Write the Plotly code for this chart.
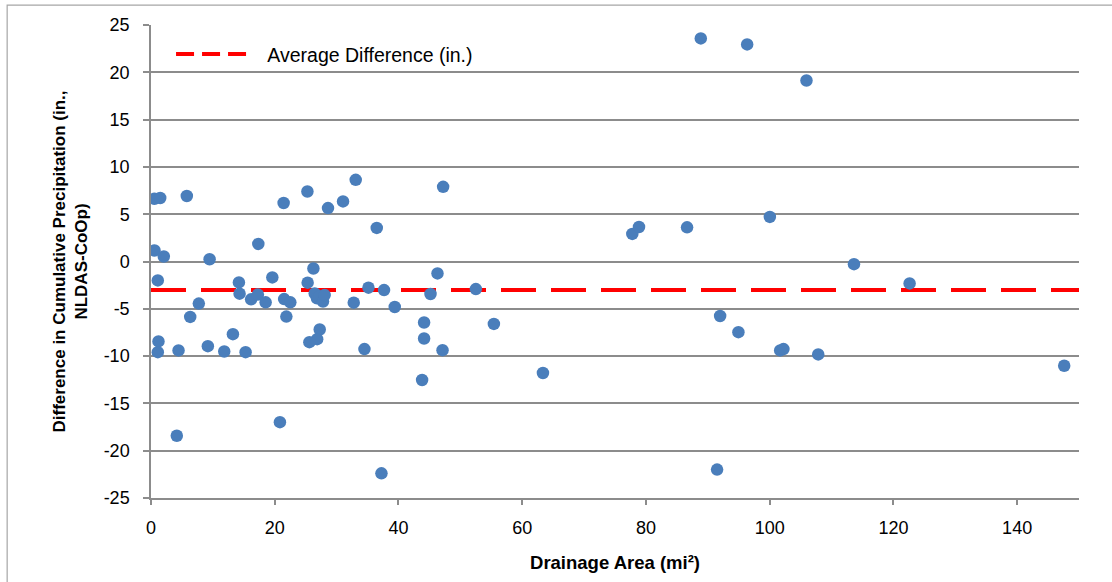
import plotly.graph_objects as go

# Drainage area (mi^2) and difference in cumulative precipitation (in.)
drainage_area = [
    0.57, 1.49, 5.79, 21.44, 25.28, 28.61, 31.04, 33.09, 47.22, 36.49,
    0.57, 2.07, 9.47, 17.35, 1.10, 14.21, 14.32, 19.61, 7.73, 6.34,
    16.18, 17.28, 18.53, 21.52, 22.52, 21.88, 25.32, 26.25, 26.46, 26.83,
    27.27, 27.80, 28.07, 27.27, 26.86, 25.60, 1.21, 1.10, 4.45, 9.19,
    13.24, 11.84, 15.29, 20.84, 4.17, 32.77, 35.15, 37.67, 39.40, 34.50,
    44.14, 44.14, 45.18, 46.31, 47.12, 43.82, 37.25, 52.51, 55.42, 63.35,
    88.87, 96.36, 105.95, 77.80, 78.88, 86.65, 100.03, 113.63, 122.62, 91.99,
    94.95, 101.70, 102.23, 107.85, 147.61, 91.50,
]
precip_diff = [
    6.63, 6.71, 6.92, 6.18, 7.40, 5.65, 6.35, 8.63, 7.89, 3.55,
    1.16, 0.53, 0.24, 1.86, -2.00, -2.21, -3.40, -1.68, -4.45, -5.86,
    -4.00, -3.50, -4.32, -3.97, -4.32, -5.82, -2.24, -0.74, -3.37, -3.89,
    -3.68, -4.24, -3.55, -7.19, -8.21, -8.53, -8.45, -9.58, -9.40, -8.95,
    -7.68, -9.51, -9.58, -16.98, -18.42, -4.35, -2.77, -3.02, -4.81, -9.26,
    -6.45, -8.14, -3.44, -1.26, -9.37, -12.53, -22.39, -2.92, -6.60, -11.79,
    23.58, 22.95, 19.13, 2.92, 3.65, 3.61, 4.71, -0.28, -2.32, -5.76,
    -7.47, -9.40, -9.26, -9.82, -11.02, -22.00,
]

average_x = [0, 150]
average_value = -3.0
average_y = [average_value, average_value]

x_ticks = [0, 20, 40, 60, 80, 100, 120, 140]
y_ticks = [25, 20, 15, 10, 5, 0, -5, -10, -15, -20, -25]
y_tick_text = ["25", "20", "15", "10", "5", "0", "-5", "-10", "-15", "-20", "-25"]

FONT = "Liberation Sans, Arial, sans-serif"
GRID = "#8c8c8c"

fig = go.Figure()

fig.add_trace(go.Scatter(
    x=average_x, y=average_y, mode="lines",
    line=dict(color="#ff0000", width=4, dash="35px,15px"),
    showlegend=False, hoverinfo="skip",
))
fig.add_trace(go.Scatter(
    x=[None], y=[None], mode="lines",
    name="\u00a0\u00a0\u00a0Average Difference (in.)",
    line=dict(color="#ff0000", width=4, dash="18px,8px"),
    showlegend=True,
))
fig.add_trace(go.Scatter(
    x=drainage_area, y=precip_diff, mode="markers",
    marker=dict(color="#4a7ebb", size=12.5, line=dict(width=0)),
    showlegend=False,
))

fig.update_layout(
    width=1112, height=582,
    margin=dict(l=151, r=33, t=25, b=81),
    paper_bgcolor="white", plot_bgcolor="white",
    font=dict(family=FONT, size=18, color="black"),
    legend=dict(
        x=0.0216, y=0.979, xanchor="left", yanchor="top",
        xref="paper", yref="paper",
        bgcolor="rgba(0,0,0,0)", itemwidth=70,
        font=dict(family=FONT, size=19.5, color="black"),
    ),
    xaxis=dict(
        range=[0, 150], tickvals=x_ticks,
        showgrid=False, zeroline=False,
        showline=True, linecolor=GRID, linewidth=1.5,
        ticks="outside", ticklen=5, tickcolor=GRID, tickwidth=1.5,
        ticklabelstandoff=8,
        tickfont=dict(family=FONT, size=18, color="black"),
        title=dict(text="<b>Drainage Area (mi²)</b>", standoff=19,
                   font=dict(family=FONT, size=18.5, color="black")),
    ),
    yaxis=dict(
        range=[-25, 25], tickvals=y_ticks, ticktext=y_tick_text,
        showgrid=True, gridcolor=GRID, gridwidth=1.5,
        zeroline=False,
        showline=True, linecolor=GRID, linewidth=1.5,
        ticks="outside", ticklen=6, tickcolor=GRID, tickwidth=1.5,
        ticklabelstandoff=10,
        tickfont=dict(family=FONT, size=18, color="black"),
        title=dict(text="<b>Difference in Cumulative Precipitation (in.,<br>NLDAS-CoOp)</b>",
                   standoff=12,
                   font=dict(family=FONT, size=17, color="black")),
    ),
    shapes=[dict(
        type="rect", xref="paper", yref="paper",
        x0=-0.155, x1=1.04, y0=-0.2, y1=1.042,
        line=dict(color="#a6a6a6", width=1.2), fillcolor="rgba(0,0,0,0)",
        layer="below",
    )],
)

fig.write_html("out.html", config={"displayModeBar": False},
               post_script="document.body.style.margin='0px';")
